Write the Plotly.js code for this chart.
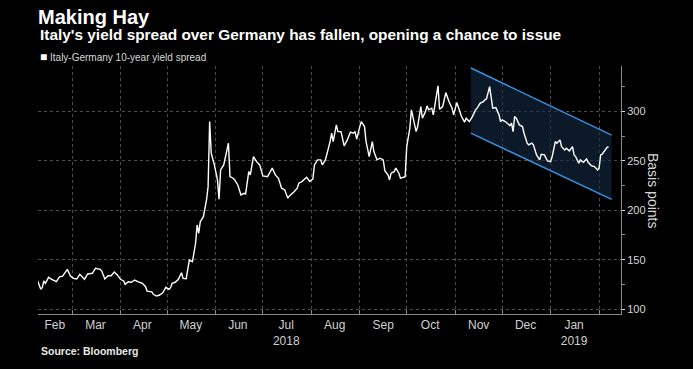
<!DOCTYPE html>
<html><head><meta charset="utf-8">
<script src="https://cdn.plot.ly/plotly-3.0.1.min.js"></script>
<style>html,body{margin:0;padding:0;background:#000;} #chart{width:693px;height:369px;}</style>
</head><body><div id="chart"></div>
<script>
const dates = [
'2018-02-07','2018-02-09','2018-02-10','2018-02-11','2018-02-12','2018-02-14','2018-02-16','2018-02-19','2018-02-21','2018-02-23','2018-02-26','2018-02-28',
'2018-03-02','2018-03-04','2018-03-06','2018-03-09','2018-03-11','2018-03-14','2018-03-16','2018-03-19','2018-03-20','2018-03-22','2018-03-24','2018-03-26','2018-03-28','2018-03-30',
'2018-04-01','2018-04-03','2018-04-04','2018-04-06','2018-04-08','2018-04-10','2018-04-12','2018-04-15','2018-04-17','2018-04-18','2018-04-21','2018-04-22','2018-04-24','2018-04-26','2018-04-28','2018-04-30',
'2018-05-02','2018-05-03','2018-05-04','2018-05-06','2018-05-08','2018-05-10','2018-05-11','2018-05-13','2018-05-15','2018-05-17','2018-05-19','2018-05-20','2018-05-21','2018-05-22','2018-05-24','2018-05-26','2018-05-27','2018-05-28','2018-05-29','2018-05-31',
'2018-06-02','2018-06-03','2018-06-04','2018-06-06','2018-06-09','2018-06-10','2018-06-12','2018-06-13','2018-06-15','2018-06-17','2018-06-19','2018-06-20','2018-06-22','2018-06-23','2018-06-25','2018-06-27','2018-06-29',
'2018-07-01','2018-07-04','2018-07-07','2018-07-09','2018-07-11','2018-07-13','2018-07-15','2018-07-17','2018-07-18','2018-07-21','2018-07-23','2018-07-24','2018-07-26','2018-07-29','2018-07-31',
'2018-08-02','2018-08-03','2018-08-05','2018-08-07','2018-08-08','2018-08-10','2018-08-13','2018-08-14','2018-08-15','2018-08-17','2018-08-18','2018-08-20','2018-08-22','2018-08-24','2018-08-26','2018-08-28','2018-08-29','2018-08-30',
'2018-09-01','2018-09-02','2018-09-04','2018-09-05','2018-09-07','2018-09-09','2018-09-10','2018-09-12','2018-09-14','2018-09-16','2018-09-17','2018-09-19','2018-09-20','2018-09-21','2018-09-23','2018-09-24','2018-09-26','2018-09-27','2018-09-29','2018-09-30',
'2018-10-01','2018-10-03','2018-10-04','2018-10-06','2018-10-07','2018-10-08','2018-10-10','2018-10-11','2018-10-13','2018-10-14','2018-10-15','2018-10-17','2018-10-18','2018-10-21','2018-10-22','2018-10-24','2018-10-26','2018-10-28','2018-10-30','2018-10-31',
'2018-11-02','2018-11-04','2018-11-05','2018-11-07','2018-11-08','2018-11-10','2018-11-12','2018-11-14','2018-11-15','2018-11-17','2018-11-19','2018-11-20','2018-11-21','2018-11-23','2018-11-24','2018-11-25','2018-11-27','2018-11-29','2018-11-30',
'2018-12-01','2018-12-03','2018-12-04','2018-12-06','2018-12-07','2018-12-08','2018-12-09','2018-12-10','2018-12-12','2018-12-14','2018-12-15','2018-12-17','2018-12-18','2018-12-20','2018-12-21','2018-12-23','2018-12-25','2018-12-26','2018-12-28','2018-12-30',
'2019-01-01','2019-01-02','2019-01-04','2019-01-05','2019-01-07','2019-01-08','2019-01-10','2019-01-11','2019-01-13','2019-01-15','2019-01-16','2019-01-17','2019-01-19','2019-01-20','2019-01-22','2019-01-24','2019-01-25','2019-01-27','2019-01-29','2019-01-31',
'2019-02-01','2019-02-02','2019-02-03','2019-02-04','2019-02-06','2019-02-07'
];
const spread = [
128.7,120.0,122.0,128.4,126.0,132.1,130.1,127.7,132.7,133.4,140.2,133.4,
131.1,130.4,135.2,130.1,135.5,136.2,141.2,140.2,138.5,130.4,133.7,133.7,137.5,134.4,
130.1,128.4,125.0,127.7,127.1,129.4,127.7,126.0,122.6,118.2,117.5,114.9,113.2,114.2,116.5,122.0,
120.0,121.6,126.0,127.1,130.1,136.8,131.1,130.7,149.6,147.9,166.6,185.1,176.7,188.5,193.5,210.4,223.9,289.8,257.8,245.9,
230.7,211.1,240.8,245.9,267.9,234.0,232.4,230.7,225.6,215.5,217.2,216.5,239.1,235.8,254.3,249.2,245.9,
234.8,234.0,242.6,235.8,232.4,222.3,220.6,212.2,214.5,218.8,222.3,227.4,229.0,233.4,229.2,
231.7,245.9,251.0,251.0,245.9,251.0,269.5,278.0,269.5,286.4,279.6,279.6,265.1,271.2,279.0,278.0,279.6,271.9,
284.7,289.8,284.7,269.5,254.3,269.5,259.4,251.0,252.7,251.0,240.1,235.8,230.7,237.5,239.1,242.6,237.5,232.4,233.4,234.0,
264.4,283.1,301.6,284.7,279.6,284.7,305.0,293.2,299.9,305.7,301.6,303.3,296.6,325.9,302.3,305.0,319.1,310.0,303.3,296.6,
309.0,299.9,294.8,289.2,293.2,289.8,294.8,301.6,303.3,308.4,310.0,311.8,312.8,325.2,313.5,303.3,303.9,296.6,289.8,
291.5,289.8,288.1,285.7,288.1,279.6,294.8,293.2,286.4,284.7,278.0,267.9,266.2,267.9,266.2,256.0,251.0,256.7,256.0,249.9,
249.2,254.3,269.5,267.9,271.2,264.4,261.1,262.8,260.1,264.4,256.0,254.3,247.6,251.0,248.6,252.0,248.6,245.2,244.2,240.8,
242.6,256.0,256.7,259.4,263.4,264.4
];
const channelDates = ['2018-11-11', '2019-02-09'];
const channelUpper = [344, 276];
const channelLower = [278, 211];
const monthTickVals = ['2018-02-18','2018-03-16','2018-04-15','2018-05-16','2018-06-15','2018-07-16','2018-08-16','2018-09-16','2018-10-16','2018-11-16','2018-12-16','2019-01-16'];
const monthTickText = ['Feb','Mar','Apr','May','Jun','Jul<br>2018','Aug','Sep','Oct','Nov','Dec','Jan<br>2019'];
const monthStarts = ['2018-02-01','2018-03-01','2018-04-01','2018-05-01','2018-06-01','2018-07-01','2018-08-01','2018-09-01','2018-10-01','2018-11-01','2018-12-01','2019-01-01','2019-02-01'];
const yTickVals = [100, 150, 200, 250, 300];
const seriesName = 'Italy-Germany 10-year yield spread';

const FONT = '"Liberation Sans", Arial, sans-serif';

const traces = [
  {x: channelDates, y: channelLower, type: 'scatter', mode: 'lines',
   line: {color: '#3a8fe0', width: 1.5}, showlegend: false, hoverinfo: 'skip'},
  {x: channelDates, y: channelUpper, type: 'scatter', mode: 'lines', fill: 'tonexty',
   fillcolor: 'rgba(20,42,68,0.6)', line: {color: '#3a8fe0', width: 1.5}, showlegend: false, hoverinfo: 'skip'},
  {x: dates, y: spread, type: 'scatter', mode: 'lines', name: seriesName,
   line: {color: '#ffffff', width: 1.4}, showlegend: false},
  {x: [null], y: [null], type: 'scatter', mode: 'markers',
   name: '<span style="font-size:12px;color:#ffffff">\u25A0</span> ' + seriesName,
   marker: {opacity: 0, size: 1, color: 'rgba(0,0,0,0)'}, showlegend: true}
];

const layout = {
  width: 693, height: 369,
  paper_bgcolor: '#000', plot_bgcolor: '#000',
  margin: {l: 38, r: 72, t: 66, b: 55, autoexpand: false},
  font: {family: FONT, color: '#d8d8d8'},
  title: {text: '<b>Making Hay</b>', font: {family: FONT, size: 20, color: '#ffffff'},
          xref: 'container', x: 38/693, xanchor: 'left', yref: 'container', y: 1 - 17/369, yanchor: 'middle'},
  showlegend: true,
  legend: {xref: 'container', x: 0, xanchor: 'left', yref: 'container', y: 1 - 57/369, yanchor: 'middle',
           font: {family: FONT, size: 10, color: '#d8d8d8'}, bgcolor: 'rgba(0,0,0,0)', borderwidth: 0},
  xaxis: {
    type: 'date', range: ['2018-02-07 06:00', '2019-02-15'],
    tickmode: 'array', tickvals: monthTickVals, ticktext: monthTickText,
    ticks: '', showgrid: false, zeroline: false,
    showline: true, linecolor: '#8a8a8a', linewidth: 1,
    tickfont: {family: FONT, size: 12, color: '#d0d0d0'},
    minor: {tickmode: 'array', tickvals: monthStarts, ticks: 'inside', ticklen: 4, tickcolor: '#8a8a8a',
            showgrid: true, gridcolor: '#4d4d4d', griddash: 'dot', gridwidth: 1}
  },
  yaxis: {
    side: 'right', range: [95, 346], tickmode: 'array', tickvals: yTickVals,
    ticks: 'outside', ticklen: 3, tickcolor: '#dddddd',
    showline: true, linecolor: '#8a8a8a', linewidth: 1,
    showgrid: true, gridcolor: '#4d4d4d', griddash: 'dot', zeroline: false,
    tickfont: {family: FONT, size: 11, color: '#d8d8d8'},
    minor: {dtick: 25, tick0: 0, ticks: 'outside', ticklen: 3, tickcolor: '#8a8a8a', showgrid: false}
  },
  annotations: [
    {text: "<b>Italy's yield spread over Germany has fallen, opening a chance to issue</b>",
     xref: 'paper', yref: 'paper', x: 0, y: 1, xanchor: 'left', yanchor: 'middle', yshift: 32,
     showarrow: false, font: {family: FONT, size: 15.4, color: '#ffffff'}},
    {text: 'Basis points', xref: 'paper', yref: 'paper', x: 1, y: 0.5, xshift: 32, textangle: 90,
     xanchor: 'center', yanchor: 'middle', showarrow: false, font: {family: FONT, size: 14, color: '#d8d8d8'}},
    {text: '<b>Source: Bloomberg</b>', xref: 'paper', yref: 'paper', x: 0, y: 0, xshift: 1, yshift: -37,
     xanchor: 'left', yanchor: 'middle', showarrow: false, font: {family: FONT, size: 10.5, color: '#e8e8e8'}}
  ]
};

Plotly.newPlot('chart', traces, layout, {displayModeBar: false, staticPlot: true});
</script>
</body></html>
